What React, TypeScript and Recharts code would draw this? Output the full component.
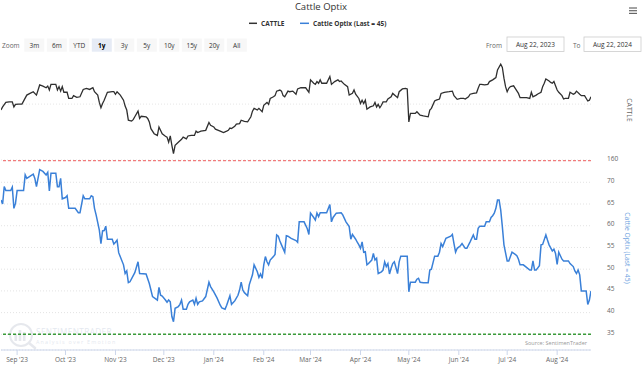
import React from 'react';
import { LineChart, Line, XAxis, YAxis, CartesianGrid, ReferenceLine } from 'recharts';

// ---------- data ----------
const cattleDates = [
  '2023-08-22','2023-08-23','2023-08-25','2023-08-27','2023-08-29','2023-08-30','2023-08-31','2023-09-02','2023-09-04','2023-09-07',
  '2023-09-09','2023-09-11','2023-09-13','2023-09-15','2023-09-17','2023-09-19','2023-09-20','2023-09-21','2023-09-22','2023-09-25',
  '2023-09-26','2023-09-27','2023-09-28','2023-09-29','2023-09-30','2023-10-02','2023-10-03','2023-10-05','2023-10-06','2023-10-08',
  '2023-10-10','2023-10-12','2023-10-14','2023-10-16','2023-10-18','2023-10-19','2023-10-21','2023-10-22','2023-10-23','2023-10-24',
  '2023-10-25','2023-10-27','2023-10-30','2023-10-31','2023-11-01','2023-11-02','2023-11-04','2023-11-06','2023-11-07','2023-11-08',
  '2023-11-09','2023-11-11','2023-11-12','2023-11-13','2023-11-15','2023-11-16','2023-11-17','2023-11-20','2023-11-21','2023-11-22',
  '2023-11-23','2023-11-25','2023-11-27','2023-11-28','2023-11-30','2023-12-02','2023-12-03','2023-12-04','2023-12-05','2023-12-06',
  '2023-12-07','2023-12-08','2023-12-10','2023-12-12','2023-12-13','2023-12-15','2023-12-16','2023-12-18','2023-12-20','2023-12-21',
  '2023-12-22','2023-12-24','2023-12-27','2023-12-29','2023-12-30','2024-01-01','2024-01-02','2024-01-05','2024-01-07','2024-01-09',
  '2024-01-10','2024-01-11','2024-01-12','2024-01-14','2024-01-15','2024-01-17','2024-01-18','2024-01-20','2024-01-22','2024-01-24',
  '2024-01-25','2024-01-26','2024-01-28','2024-01-29','2024-01-31','2024-02-01','2024-02-03','2024-02-04','2024-02-05','2024-02-07',
  '2024-02-08','2024-02-09','2024-02-11','2024-02-12','2024-02-13','2024-02-14','2024-02-16','2024-02-17','2024-02-19','2024-02-21',
  '2024-02-22','2024-02-24','2024-02-27','2024-02-29','2024-03-01','2024-03-03','2024-03-04','2024-03-05','2024-03-06','2024-03-07',
  '2024-03-08','2024-03-11','2024-03-13','2024-03-14','2024-03-16','2024-03-18','2024-03-19','2024-03-20','2024-03-22','2024-03-24',
  '2024-03-25','2024-03-27','2024-03-28','2024-03-29','2024-03-31','2024-04-01','2024-04-02','2024-04-03','2024-04-04','2024-04-05',
  '2024-04-07','2024-04-09','2024-04-10','2024-04-11','2024-04-12','2024-04-13','2024-04-14','2024-04-15','2024-04-17','2024-04-18',
  '2024-04-20','2024-04-21','2024-04-24','2024-04-25','2024-04-27','2024-04-29','2024-04-30','2024-05-01','2024-05-02','2024-05-05',
  '2024-05-06','2024-05-08','2024-05-10','2024-05-13','2024-05-14','2024-05-15','2024-05-17','2024-05-18','2024-05-20','2024-05-21',
  '2024-05-23','2024-05-26','2024-05-28','2024-05-29','2024-05-31','2024-06-02','2024-06-04','2024-06-05','2024-06-07','2024-06-08',
  '2024-06-10','2024-06-12','2024-06-13','2024-06-14','2024-06-15','2024-06-17','2024-06-19','2024-06-20','2024-06-22','2024-06-24',
  '2024-06-25','2024-06-27','2024-06-28','2024-06-29','2024-06-30','2024-07-01','2024-07-02','2024-07-03','2024-07-05','2024-07-06',
  '2024-07-08','2024-07-09','2024-07-11','2024-07-13','2024-07-15','2024-07-16','2024-07-17','2024-07-19','2024-07-20','2024-07-22',
  '2024-07-23','2024-07-24','2024-07-25','2024-07-27','2024-07-28','2024-07-29','2024-07-30','2024-07-31','2024-08-01','2024-08-02',
  '2024-08-04','2024-08-05','2024-08-06','2024-08-08','2024-08-09','2024-08-11','2024-08-12','2024-08-13','2024-08-15','2024-08-16',
  '2024-08-18','2024-08-20','2024-08-21','2024-08-22',
];
const cattleValues = [
  177.9,179.0,180.6,180.8,180.8,179.0,179.9,180.0,180.0,183.2,
  183.8,184.4,183.2,186.8,186.4,185.8,186.4,185.0,187.0,187.0,
  185.0,186.2,184.6,186.2,184.2,184.2,182.0,182.0,183.0,182.4,
  182.6,185.2,185.6,185.2,185.8,184.4,183.2,180.6,178.7,180.2,
  181.4,184.2,184.4,184.4,183.5,184.4,183.2,181.4,179.3,177.9,
  174.3,174.0,174.5,175.5,177.5,174.9,175.7,175.5,174.9,173.7,
  171.3,169.5,168.9,171.9,169.5,168.6,168.3,166.5,168.7,165.4,
  162.4,165.4,166.5,167.5,168.3,167.7,168.7,168.9,168.9,170.4,
  169.9,170.4,170.7,173.5,172.5,171.9,171.1,170.4,169.9,170.4,
  170.7,171.5,171.3,172.1,172.9,173.1,174.3,173.9,173.7,175.5,
  177.5,178.5,177.9,178.5,177.3,179.6,180.6,179.9,182.0,182.6,
  183.0,184.6,185.0,184.6,183.0,182.6,184.6,184.4,184.6,183.5,
  185.4,185.8,185.8,184.2,188.6,187.4,187.0,188.0,187.4,188.6,
  187.4,187.4,189.8,187.0,188.0,188.6,188.0,188.2,187.0,186.2,
  183.2,183.8,185.0,183.5,182.0,180.2,181.4,180.2,181.4,178.2,
  179.0,179.4,180.6,179.0,179.9,178.7,179.6,180.8,180.8,181.8,
  182.6,183.8,182.3,184.4,185.4,185.6,185.4,173.7,176.7,176.7,
  177.3,176.1,175.8,175.5,177.9,178.5,181.1,181.4,181.8,183.8,
  184.2,184.4,184.6,183.0,181.7,182.0,182.0,181.8,182.6,183.5,
  183.8,184.0,185.6,187.0,187.0,186.8,187.0,188.0,188.6,189.4,
  192.1,194.2,193.0,189.2,186.2,184.4,185.6,186.2,186.5,185.6,
  183.8,182.3,182.3,182.3,182.0,184.2,182.6,183.2,183.6,184.2,
  186.2,187.4,188.9,188.2,187.7,187.4,188.0,186.5,185.0,184.2,
  183.0,181.8,182.0,182.0,184.2,183.5,183.8,184.6,183.5,183.0,
  183.0,181.1,181.4,182.6,
];

const optixDates = [
  '2023-08-22','2023-08-23','2023-08-24','2023-08-25','2023-08-28','2023-08-29','2023-08-30','2023-08-31','2023-09-01','2023-09-05',
  '2023-09-06','2023-09-07','2023-09-11','2023-09-12','2023-09-13','2023-09-15','2023-09-17','2023-09-19','2023-09-20','2023-09-21',
  '2023-09-22','2023-09-25','2023-09-26','2023-09-27','2023-09-28','2023-09-29','2023-10-01','2023-10-02','2023-10-03','2023-10-07',
  '2023-10-09','2023-10-10','2023-10-12','2023-10-13','2023-10-16','2023-10-17','2023-10-18','2023-10-19','2023-10-20','2023-10-22',
  '2023-10-23','2023-10-24','2023-10-25','2023-10-26','2023-10-27','2023-10-30','2023-10-31','2023-11-01','2023-11-02','2023-11-03',
  '2023-11-06','2023-11-07','2023-11-08','2023-11-09','2023-11-10','2023-11-13','2023-11-15','2023-11-16','2023-11-20','2023-11-22',
  '2023-11-23','2023-11-24','2023-11-27','2023-11-28','2023-11-29','2023-11-30','2023-12-02','2023-12-03','2023-12-04','2023-12-05',
  '2023-12-06','2023-12-07','2023-12-08','2023-12-10','2023-12-11','2023-12-12','2023-12-13','2023-12-15','2023-12-16','2023-12-17',
  '2023-12-19','2023-12-20','2023-12-21','2023-12-22','2023-12-23','2023-12-25','2023-12-27','2023-12-29','2023-12-30','2024-01-01',
  '2024-01-03','2024-01-05','2024-01-06','2024-01-08','2024-01-09','2024-01-11','2024-01-12','2024-01-14','2024-01-16','2024-01-17',
  '2024-01-18','2024-01-19','2024-01-20','2024-01-22','2024-01-23','2024-01-25','2024-01-26','2024-01-28','2024-01-29','2024-01-30',
  '2024-01-31','2024-02-01','2024-02-02','2024-02-03','2024-02-04','2024-02-05','2024-02-07','2024-02-08','2024-02-09','2024-02-10',
  '2024-02-11','2024-02-12','2024-02-14','2024-02-15','2024-02-16','2024-02-18','2024-02-21','2024-02-22','2024-02-23','2024-02-26',
  '2024-02-28','2024-02-29','2024-03-01','2024-03-03','2024-03-04','2024-03-05','2024-03-06','2024-03-07','2024-03-11','2024-03-13',
  '2024-03-14','2024-03-15','2024-03-17','2024-03-20','2024-03-21','2024-03-23','2024-03-25','2024-03-26','2024-03-27','2024-03-29',
  '2024-03-30','2024-03-31','2024-04-01','2024-04-02','2024-04-03','2024-04-04','2024-04-05','2024-04-06','2024-04-08','2024-04-09',
  '2024-04-10','2024-04-11','2024-04-12','2024-04-14','2024-04-15','2024-04-16','2024-04-17','2024-04-18','2024-04-19','2024-04-20',
  '2024-04-21','2024-04-22','2024-04-24','2024-04-25','2024-04-26','2024-04-30','2024-05-01','2024-05-02','2024-05-05','2024-05-06',
  '2024-05-07','2024-05-08','2024-05-10','2024-05-13','2024-05-14','2024-05-15','2024-05-17','2024-05-19','2024-05-20','2024-05-21',
  '2024-05-22','2024-05-24','2024-05-27','2024-05-28','2024-05-29','2024-05-30','2024-05-31','2024-06-02','2024-06-03','2024-06-05',
  '2024-06-06','2024-06-08','2024-06-10','2024-06-11','2024-06-12','2024-06-13','2024-06-14','2024-06-17','2024-06-18','2024-06-20',
  '2024-06-21','2024-06-22','2024-06-23','2024-06-24','2024-06-25','2024-06-26','2024-06-27','2024-06-28','2024-06-29','2024-07-01',
  '2024-07-02','2024-07-03','2024-07-04','2024-07-06','2024-07-07','2024-07-08','2024-07-09','2024-07-11','2024-07-13','2024-07-15',
  '2024-07-16','2024-07-17','2024-07-18','2024-07-19','2024-07-20','2024-07-21','2024-07-22','2024-07-23','2024-07-25','2024-07-26',
  '2024-07-27','2024-07-29','2024-07-30','2024-07-31','2024-08-01','2024-08-02','2024-08-03','2024-08-04','2024-08-05','2024-08-08',
  '2024-08-09','2024-08-11','2024-08-12','2024-08-13','2024-08-14','2024-08-15','2024-08-16','2024-08-19','2024-08-20','2024-08-21',
  '2024-08-22',
];
const optixValues = [
  65.9,65.0,69.0,68.1,68.1,68.9,64.0,65.2,68.1,68.1,
  71.7,70.9,71.9,70.9,69.0,72.9,72.5,71.7,72.3,68.0,
  72.1,72.1,69.0,69.0,70.9,66.2,66.5,66.9,64.0,64.0,
  63.0,63.0,66.9,66.2,66.2,66.9,66.7,64.0,62.5,59.0,
  55.9,58.8,58.9,59.9,56.9,56.9,55.8,56.2,56.7,53.8,
  51.0,49.0,49.6,46.9,47.1,49.2,51.7,49.0,48.9,46.7,
  45.2,43.7,42.9,45.8,44.0,43.8,42.9,42.4,42.9,42.5,
  39.1,37.9,41.0,41.4,41.9,42.9,40.8,40.8,41.9,42.5,
  42.9,41.9,43.3,41.9,42.5,42.7,43.7,47.0,46.0,44.8,
  43.4,41.7,41.1,40.8,41.7,43.9,41.9,42.7,44.0,45.2,
  47.0,45.2,44.6,43.9,46.4,48.7,51.0,49.4,48.1,48.9,
  47.9,51.0,52.9,51.7,51.0,52.1,52.9,53.4,57.9,57.6,
  56.5,55.6,53.9,57.7,57.6,57.1,56.6,56.2,60.9,60.9,
  59.3,58.0,62.9,61.9,61.3,62.9,62.1,63.0,63.0,64.9,
  60.9,61.9,62.9,63.0,62.5,60.9,59.8,56.9,58.0,56.9,
  56.2,55.6,54.8,56.3,53.9,54.0,51.0,51.3,52.1,53.6,
  52.1,52.5,49.0,49.4,49.8,51.7,50.6,51.3,48.9,50.2,
  51.3,51.7,49.0,51.7,53.0,53.0,44.8,47.0,47.0,47.7,
  47.9,47.0,46.9,46.9,49.8,50.0,53.0,53.0,53.9,55.9,
  55.2,57.1,57.6,58.0,55.9,53.9,54.8,55.4,55.9,54.8,
  54.8,56.3,57.9,56.9,56.9,59.4,59.9,59.9,60.9,60.9,
  61.9,62.3,62.9,64.0,65.9,65.9,63.6,59.8,55.6,51.9,
  51.9,52.9,53.9,53.4,53.1,52.3,51.0,51.0,50.4,49.8,
  49.8,51.9,49.8,49.8,50.3,50.8,55.6,55.7,57.9,56.7,
  55.6,54.2,54.6,53.6,51.1,53.9,53.1,52.3,51.9,51.9,
  51.3,50.6,49.6,49.0,49.8,48.7,45.0,45.0,41.9,42.9,
  45.0,
];

const monthTickDates = ['2023-09-01','2023-10-01','2023-11-01','2023-12-01','2024-01-01','2024-02-01','2024-03-01','2024-04-01','2024-05-01','2024-06-01','2024-07-01','2024-08-01'];
const monthTickLabels = ["Sep '23","Oct '23","Nov '23","Dec '23","Jan '24","Feb '24","Mar '24","Apr '24","May '24","Jun '24","Jul '24","Aug '24"];
const optixTicks = [35, 40, 45, 50, 55, 60, 65, 70];
const cattleTicks = [160];
const cattleGrid = [180];
const optixUpper = 75;
const optixLower = 35;
const rangeButtons = ['3m', '6m', 'YTD', '1y', '3y', '5y', '10y', '15y', '20y', 'All'];
const selectedRange = '1y';
const fromDate = 'Aug 22, 2023';
const toDate = 'Aug 22, 2024';
const startDate = '2023-08-22';
const endDate = '2024-08-22';

// ---------- helpers ----------
const toT = (s: string) => Date.parse(s + 'T00:00:00Z');
const cattleData = cattleDates.map((d, i) => ({ t: toT(d), v: cattleValues[i] }));
const optixData = optixDates.map((d, i) => ({ t: toT(d), v: optixValues[i] }));
const monthTicks = monthTickDates.map(toT);
const xDomain: [number, number] = [toT(startDate), toT(endDate)];

const FONT = '"Open Sans", "DejaVu Sans", sans-serif';
const W = 643;
const H = 368;
const PLOT_LEFT = 1;
const PLOT_RIGHT = 591;
const BLUE = '#3a80d8';

const RightTick = (props: any) => {
  const { y, payload } = props;
  return (
    <text x={607} y={y + 0.5} fontSize={6.5} fill="#666" fontFamily={FONT} textAnchor="start">
      {payload.value}
    </text>
  );
};

const BottomTick = (props: any) => {
  const { x, payload } = props;
  const idx = monthTicks.indexOf(payload.value);
  return (
    <text x={x} y={362} fontSize={6.5} fill="#666" fontFamily={FONT} textAnchor="middle">
      {idx >= 0 ? monthTickLabels[idx] : ''}
    </text>
  );
};

const VTitle = (props: any) => {
  const { cx, cy, text, color } = props;
  return (
    <text
      x={cx}
      y={cy}
      transform={`rotate(90 ${cx} ${cy})`}
      textAnchor="middle"
      dominantBaseline="central"
      fontSize={6.8}
      fill={color}
      fontFamily={FONT}
    >
      {text}
    </text>
  );
};

const Chrome = () => (
  <svg width={W} height={H} style={{ position: 'absolute', left: 0, top: 0 }}>
    {/* watermark */}
    <g opacity={0.45}>
      <circle cx={21} cy={335} r={11} fill="none" stroke="#c9ced8" strokeWidth={2} />
      <rect x={14.5} y={334} width={2.6} height={7} fill="#c9ced8" />
      <rect x={18.7} y={330} width={2.6} height={11} fill="#c9ced8" />
      <rect x={22.9} y={332} width={2.6} height={9} fill="#c9ced8" />
      <line x1={29} y1={343} x2={35} y2={348} stroke="#c9ced8" strokeWidth={2.6} strokeLinecap="round" />
      <text x={36} y={335} fontSize={8.2} fill="#c4cedd" fontFamily={FONT} letterSpacing={0.4}>SENTIMENTRADER</text>
      <text x={36} y={344} fontSize={5.4} fill="#c4cedd" fontFamily={FONT} letterSpacing={1.2}>Analysis over Emotion</text>
    </g>

    {/* title */}
    <text x={321} y={10} textAnchor="middle" fontSize={9.5} fill="#333" fontFamily={FONT}>Cattle Optix</text>

    {/* hamburger */}
    <g stroke="#666" strokeWidth={1.2}>
      <line x1={629} y1={8} x2={637} y2={8} />
      <line x1={629} y1={10.7} x2={637} y2={10.7} />
      <line x1={629} y1={13.4} x2={637} y2={13.4} />
    </g>

    {/* legend */}
    <line x1={249} y1={23.3} x2={257} y2={23.3} stroke="#333" strokeWidth={1.5} />
    <text x={261} y={25.6} fontSize={6.5} fontWeight="bold" fill="#333" fontFamily={FONT}>CATTLE</text>
    <line x1={300} y1={23.3} x2={309} y2={23.3} stroke={BLUE} strokeWidth={1.5} />
    <text x={313} y={25.6} fontSize={6.5} fontWeight="bold" fill="#333" fontFamily={FONT}>Cattle Optix (Last = 45)</text>

    {/* range selector */}
    <text x={2} y={47.5} fontSize={6.5} fill="#666" fontFamily={FONT}>Zoom</text>
    {rangeButtons.map((b, i) => {
      const x = 24.3 + i * 22.5;
      const sel = b === selectedRange;
      return (
        <g key={b}>
          <rect x={x} y={38.5} width={20} height={13.2} fill={sel ? '#e6ebf5' : '#f7f7f7'} />
          <text
            x={x + 10}
            y={47.5}
            textAnchor="middle"
            fontSize={6.5}
            fontWeight={sel ? 'bold' : 'normal'}
            fill={sel ? '#000' : '#333'}
            fontFamily={FONT}
          >
            {b}
          </text>
        </g>
      );
    })}
    <text x={486} y={47.5} fontSize={6.5} fill="#666" fontFamily={FONT}>From</text>
    <rect x={507} y={37} width={57} height={14.5} fill="#fff" stroke="#ccc" strokeWidth={0.8} />
    <text x={535.5} y={47.3} textAnchor="middle" fontSize={6.5} fill="#333" fontFamily={FONT}>{fromDate}</text>
    <text x={573} y={47.5} fontSize={6.5} fill="#666" fontFamily={FONT}>To</text>
    <rect x={584} y={37} width={57} height={14.5} fill="#fff" stroke="#ccc" strokeWidth={0.8} />
    <text x={612.5} y={47.3} textAnchor="middle" fontSize={6.5} fill="#333" fontFamily={FONT}>{toDate}</text>

    {/* source */}
    <text x={587} y={344.5} textAnchor="end" fontSize={5.5} fill="#999" fontFamily={FONT}>Source: SentimenTrader</text>
  </svg>
);

export default function App() {
  const TOP_Y = 59;
  const TOP_B = 160.5;
  const BOT_Y = 160;
  const BOT_B = 350;
  return (
    <div style={{ position: 'absolute', left: 0, top: 0, width: W, height: H, background: '#fff', fontFamily: FONT }}>
      <Chrome />
      <div style={{ position: 'absolute', left: 0, top: 0 }}>
        <LineChart
          width={W}
          height={H}
          data={cattleData}
          margin={{ top: TOP_Y, right: 0, bottom: H - TOP_B, left: PLOT_LEFT }}
        >
          <XAxis type="number" dataKey="t" domain={xDomain} hide allowDataOverflow />
          <YAxis
            orientation="right"
            width={W - PLOT_RIGHT}
            domain={[160, 196]}
            ticks={cattleTicks}
            interval={0}
            allowDataOverflow
            axisLine={false}
            tickLine={false}
            tick={<RightTick />}
            label={<VTitle cx={629} cy={110} text="CATTLE" color="#666" />}
          />
          {cattleGrid.map((g) => (
            <ReferenceLine key={g} y={g} stroke="#e6e6e6" strokeDasharray="1 2" />
          ))}
          <Line
            type="linear"
            dataKey="v"
            stroke="#2f2f2f"
            strokeWidth={1.3}
            dot={false}
            activeDot={false}
            isAnimationActive={false}
          />
        </LineChart>
      </div>
      <div style={{ position: 'absolute', left: 0, top: 0 }}>
        <LineChart
          width={W}
          height={H}
          data={optixData}
          margin={{ top: BOT_Y, right: 0, bottom: 0, left: PLOT_LEFT }}
        >
          <CartesianGrid vertical={false} stroke="#e3e3e3" strokeDasharray="1 2" />
          <XAxis
            type="number"
            dataKey="t"
            domain={xDomain}
            ticks={monthTicks}
            interval={0}
            height={H - BOT_B}
            allowDataOverflow
            stroke="#ccd6eb"
            tickSize={5}
            tick={<BottomTick />}
          />
          <YAxis
            orientation="right"
            width={W - PLOT_RIGHT}
            domain={[31.4, 75.13]}
            ticks={optixTicks}
            interval={0}
            allowDataOverflow
            axisLine={false}
            tickLine={false}
            tick={<RightTick />}
            label={<VTitle cx={627} cy={248} text="Cattle Optix (Last = 45)" color="#6c9fe0" />}
          />
          <ReferenceLine y={optixUpper} stroke="#f07b7b" strokeWidth={1.3} strokeDasharray="3 2" />
          <ReferenceLine y={optixLower} stroke="#3a9b3a" strokeWidth={1.5} strokeDasharray="3 2" />
          <Line
            type="linear"
            dataKey="v"
            stroke={BLUE}
            strokeWidth={1.5}
            dot={false}
            activeDot={false}
            isAnimationActive={false}
          />
        </LineChart>
      </div>
    </div>
  );
}
